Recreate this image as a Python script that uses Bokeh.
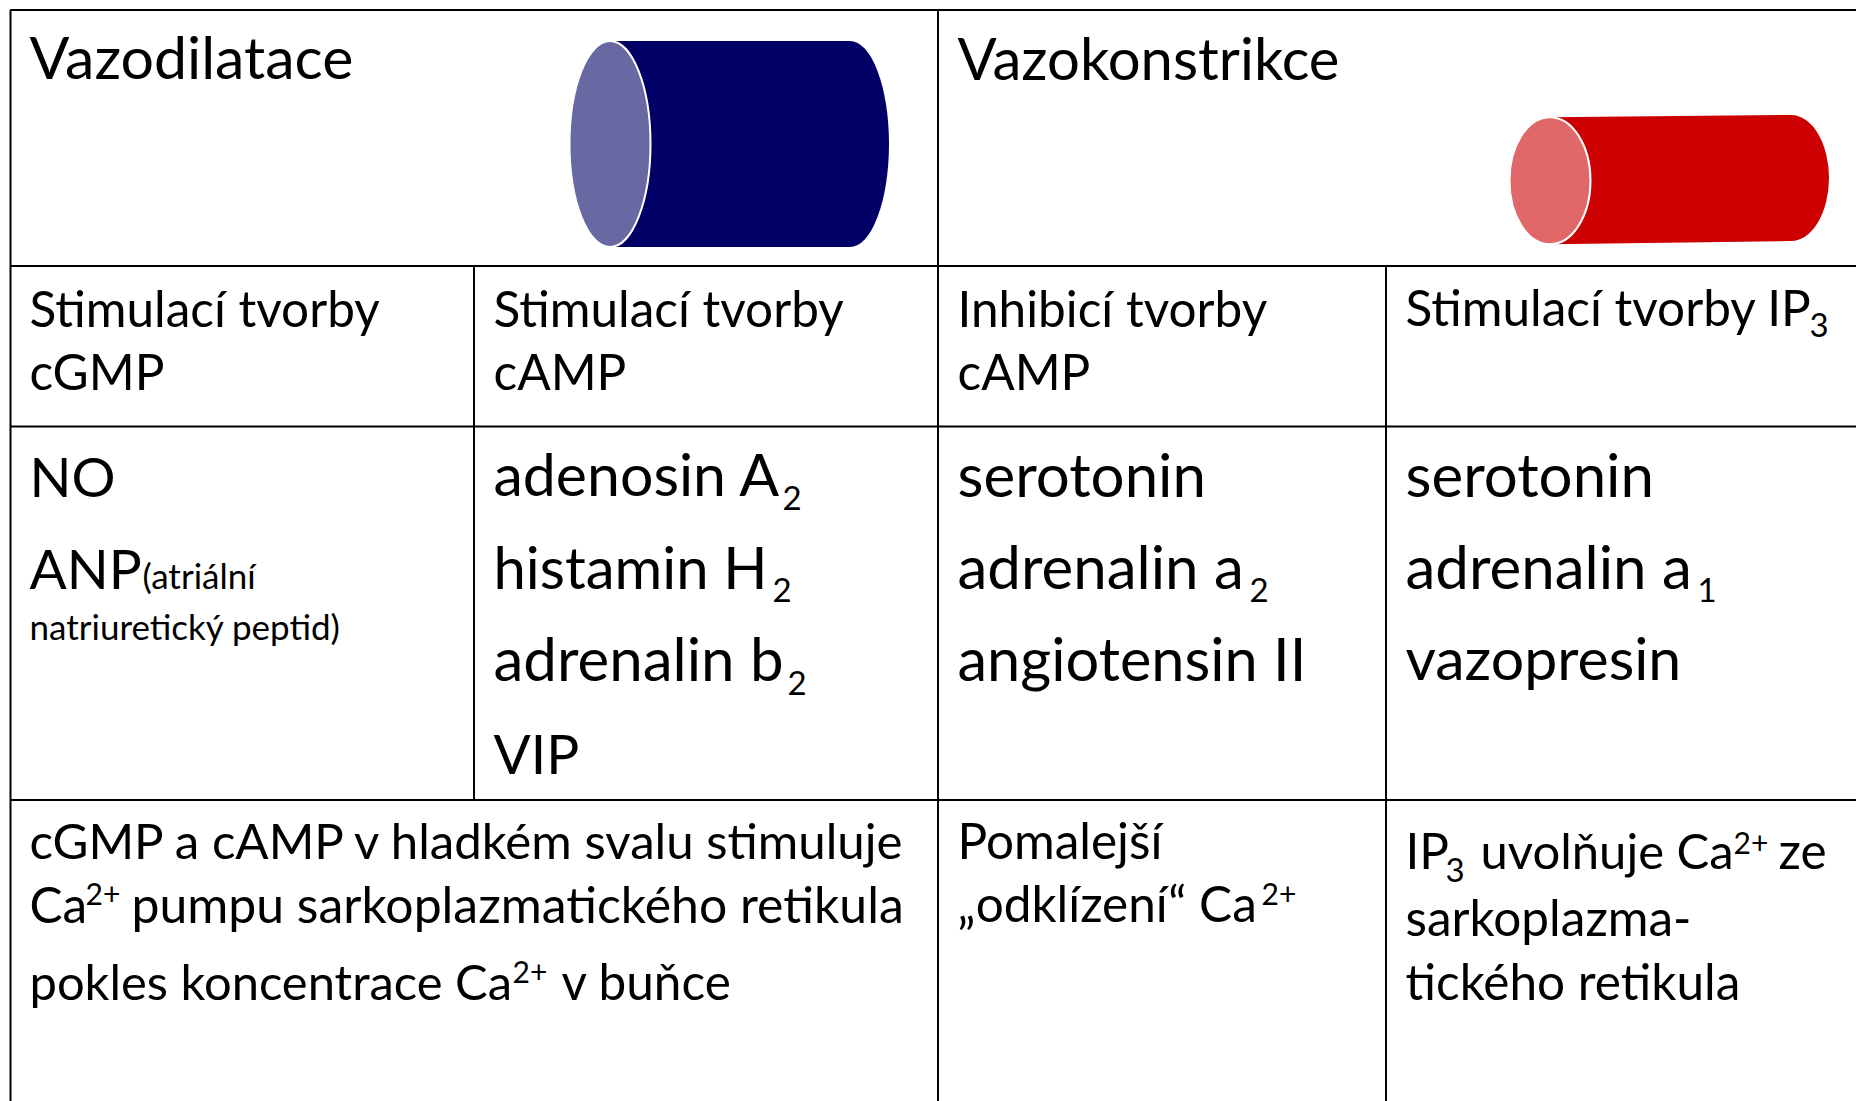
from bokeh.plotting import figure
from bokeh.models import ColumnDataSource, Range1d
from bokeh.core.properties import value
from bokeh.embed import file_html
from bokeh.resources import INLINE

TITLES = ["Vazodilatace", "Vazokonstrikce"]
HEADERS = ["Stimulací tvorby", "cGMP", "Stimulací tvorby", "cAMP", "Inhibicí tvorby", "cAMP",
           "Stimulací tvorby IP", "3"]
AGENTS_CGMP = ["NO", "ANP", "(atriální", "natriuretický peptid)"]
AGENTS_CAMP = ["adenosin A", "2", "histamin H", "2", "adrenalin b", "2", "VIP"]
AGENTS_INHIB = ["serotonin", "adrenalin a", "2", "angiotensin II"]
AGENTS_IP3 = ["serotonin", "adrenalin a", "1", "vazopresin"]
EFFECT_RELAX = ["cGMP a cAMP v hladkém svalu stimuluje", "Ca", "2+", "pumpu sarkoplazmatického retikula",
                "pokles koncentrace Ca", "2+", "v buňce"]
EFFECT_SLOW = ["Pomalejší", "„odklízení“ Ca", "2+"]
EFFECT_IP3 = ["IP", "3", "uvolňuje Ca", "2+", "ze", "sarkoplazma-", "tického retikula"]

texts = TITLES + HEADERS + AGENTS_CGMP + AGENTS_CAMP + AGENTS_INHIB + AGENTS_IP3 + EFFECT_RELAX + EFFECT_SLOW + EFFECT_IP3

L, M, S, T, U = 60, 49.5, 35, 30, 33
BASELINE_SHIFT = 0.4
layout = [
    (29, 80, 59), (957, 80, 58),
    (29, 327, M), (29, 390, M), (493, 327, M), (493, 390, M), (957, 327, M), (957, 390, M),
    (1405, 326, M), (1809, 338, U),
    (29, 497, 55), (29, 589, 55), (142, 588, S), (29, 639, S),
    (493, 497, 59), (782, 511, U), (493, 589, 58), (772, 603, U), (493, 681, L), (787, 696, U), (493, 774, 55),
    (957, 497, L), (957, 589, L), (1249, 603, U), (957, 681, 59.5),
    (1405, 497, L), (1405, 589, L), (1697, 603, U), (1405, 681, 59),
    (29, 859, 49.2), (29, 923, M), (85, 905, T), (131, 923, 49.9),
    (29, 1000, 48.9), (512, 983, T), (561, 1000, M),
    (957, 859, M), (957, 922, M), (1261, 905, T),
    (1405, 869, M), (1445, 883, U), (1480, 869, 49), (1733, 854, T), (1778, 869, M),
    (1405, 936, M), (1405, 1000, M),
]

p = figure(width=1856, height=1101, x_range=Range1d(0, 1856), y_range=Range1d(1101, 0),
           output_backend="svg", toolbar_location=None, min_border=0)
p.axis.visible = False
p.grid.visible = False
p.outline_line_color = None
p.background_fill_color = "white"

H = [(9.5, 10, 1856), (265.5, 10, 1856), (426, 10, 1856), (799.5, 10, 1856)]
V = [(10, 9, 1101), (473.5, 265, 799), (937.5, 9, 1101), (1385.5, 265, 1101)]
p.segment([h[1] for h in H], [h[0] for h in H], [h[2] for h in H], [h[0] for h in H],
          line_color="black", line_width=2.2)
p.segment([v[0] for v in V], [v[1] for v in V], [v[0] for v in V], [v[2] for v in V],
          line_color="black", line_width=2)


def cylinder(xl, yl, ryl, xr, yr, ryr, rxl, rxr, body, face):
    p.ellipse([xr], [yr], width=2 * rxr, height=2 * ryr, fill_color=body, line_color=None)
    p.patch([xl, xr, xr, xl], [yl - ryl, yr - ryr, yr + ryr, yl + ryl], fill_color=body, line_color=None)
    p.ellipse([xl], [yl], width=2 * rxl, height=2 * ryl, fill_color=face,
              line_color="white", line_width=2)


cylinder(609.5, 143.5, 103, 849.5, 143.5, 103, 40.5, 39, "#000066", "#6868A3")
cylinder(1549.5, 180.2, 63.5, 1790.5, 177.5, 63, 40.5, 38, "#CC0000", "#E06868")

src = ColumnDataSource(dict(x=[a[0] for a in layout],
                            y=[a[1] - BASELINE_SHIFT * a[2] for a in layout],
                            t=texts, s=[f"{a[2]}px" for a in layout]))
p.text(x="x", y="y", text="t", text_font_size="s", text_font=value("Lato"),
       text_color="black", text_align="left", text_baseline="alphabetic", source=src)

open("out.html", "w").write(file_html(p, INLINE))
